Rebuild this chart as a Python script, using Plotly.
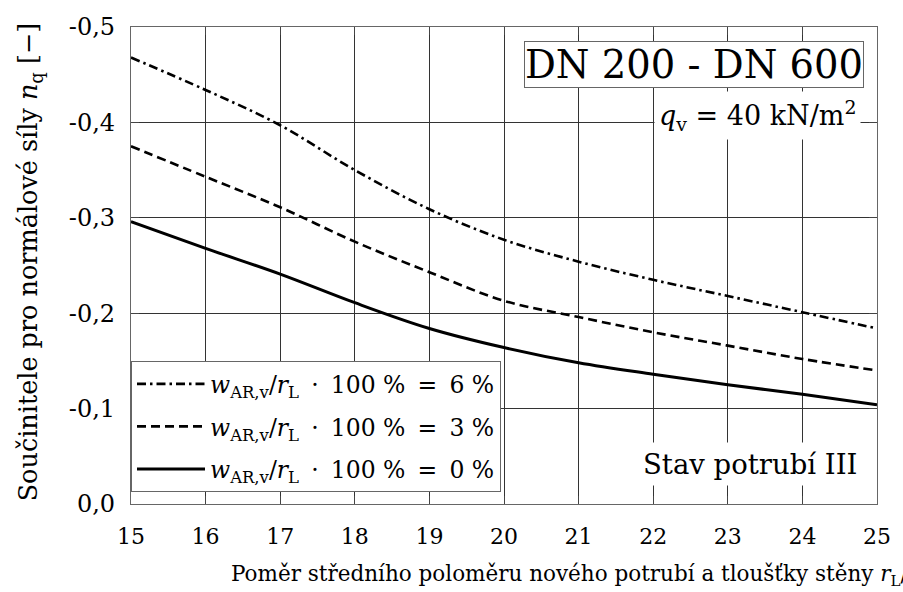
import plotly.graph_objects as go

# Wall-thickness ratio r_L/s
ratio = [15, 16, 17, 18, 19, 20, 21, 22, 23, 24, 25]

# Normal force coefficients n_q for the three deformation levels
nq_6 = [-0.468, -0.434, -0.397, -0.350, -0.309, -0.277, -0.254, -0.235, -0.218, -0.201, -0.184]
nq_3 = [-0.375, -0.343, -0.311, -0.275, -0.243, -0.213, -0.196, -0.180, -0.166, -0.152, -0.140]
nq_0 = [-0.296, -0.268, -0.241, -0.211, -0.184, -0.164, -0.148, -0.136, -0.125, -0.115, -0.104]

series = [
    ("6", nq_6, "9px,4px,2.5px,4px", 2.6),
    ("3", nq_3, "9px,5px", 2.6),
    ("0", nq_0, "solid", 3.0),
]

x_ticks = list(range(15, 26))
y_ticks = [0.0, -0.1, -0.2, -0.3, -0.4, -0.5]
y_tick_text = ["0,0", "-0,1", "-0,2", "-0,3", "-0,4", "-0,5"]

FONT = "DejaVu Serif, Liberation Serif, serif"
NB = "\u00a0"
THIN = "\u2009"

fig = go.Figure()
for pct, vals, dash, width in series:
    label = (f"<i>w</i><sub>AR,v</sub>/<i>r</i><sub>L</sub>{NB}{THIN}·{NB}{THIN}100 %"
             f"{NB}{THIN}={NB}{THIN}{pct} %")
    fig.add_trace(go.Scatter(
        x=ratio, y=vals, mode="lines", line_shape="spline",
        line=dict(color="black", width=width, dash=dash),
        name=label, legendgroup=pct,
    ))

axis_common = dict(
    showline=True, linecolor="#666", linewidth=1.3, mirror="ticks",
    ticks="inside", ticklen=8, tickcolor="#444",
    showgrid=True, gridcolor="#333", gridwidth=1, zeroline=False,
)

fig.update_xaxes(range=[15, 25], tickvals=x_ticks, ticklabelstandoff=12,
                 tickfont=dict(family=FONT, size=22, color="black"), **axis_common)
fig.update_yaxes(range=[0, -0.5], tickvals=y_ticks, ticktext=y_tick_text,
                 ticklabelstandoff=10,
                 tickfont=dict(family=FONT, size=24, color="black"), **axis_common)

fig.update_layout(
    width=903, height=592,
    margin=dict(l=131, r=16, t=27, b=88),
    paper_bgcolor="white", plot_bgcolor="white",
    font=dict(family=FONT, color="black"),
    showlegend=True,
    legend=dict(
        x=0, y=0.025, xanchor="left", yanchor="bottom",
        bgcolor="white", bordercolor="#666", borderwidth=1,
        font=dict(family=FONT, size=23.5, color="black"),
        itemwidth=68, tracegroupgap=9,
    ),
    annotations=[
        dict(x=22.55, y=-0.461, xref="x", yref="y", text="DN 200 - DN 600",
             showarrow=False, font=dict(family=FONT, size=38.5, color="black"),
             bgcolor="white", bordercolor="#666", borderwidth=1, borderpad=0),
        dict(x=23.4, y=-0.407, xref="x", yref="y",
             text=f"<i>q</i><sub>v</sub>{NB}={NB}40 kN/m<sup>2</sup>",
             showarrow=False, font=dict(family=FONT, size=27, color="black"),
             bgcolor="white", borderpad=4),
        dict(x=23.3, y=-0.042, xref="x", yref="y", text="Stav potrubí III",
             showarrow=False, font=dict(family=FONT, size=27.5, color="black"),
             bgcolor="white", borderpad=5),
        dict(x=(230 - 131) / 756, y=-0.15, xref="paper", yref="paper", xanchor="left",
             yanchor="middle",
             text="Poměr středního poloměru nového potrubí a tloušťky stěny "
                  "<i>r</i><sub>L</sub>/<i>s</i> [−]",
             showarrow=False, font=dict(family=FONT, size=21.5, color="black")),
        dict(x=(28 - 131) / 756, y=(504 - 262) / 477, xref="paper", yref="paper",
             textangle=-90, xanchor="center", yanchor="middle",
             text="Součinitele pro normálové síly <i>n</i><sub>q</sub> [−]",
             showarrow=False, font=dict(family=FONT, size=25.5, color="black")),
    ],
)

fig.write_html("out.html")
